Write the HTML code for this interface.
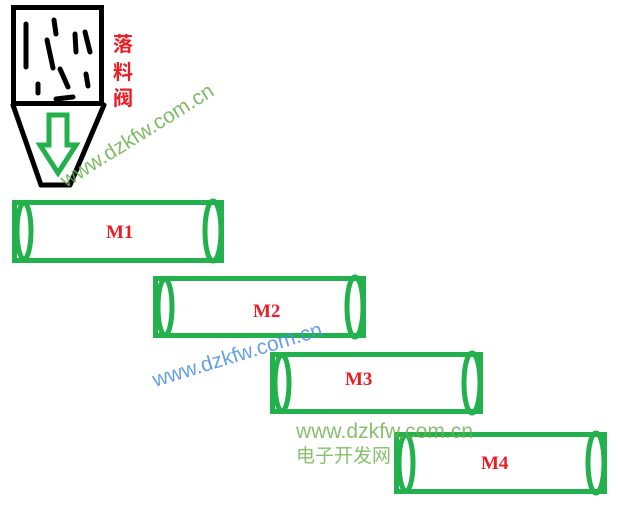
<!DOCTYPE html>
<html><head><meta charset="utf-8"><style>
html,body{margin:0;padding:0;background:#fff;width:619px;height:505px;overflow:hidden}
svg{display:block}
</style></head><body>
<svg width="619" height="505" viewBox="0 0 619 505" xmlns="http://www.w3.org/2000/svg">
<g stroke="#000" stroke-width="5" fill="none" stroke-linecap="round">
<rect x="13.5" y="7.5" width="88" height="96"/>
<line x1="13" y1="105" x2="41" y2="185"/>
<line x1="104" y1="105" x2="70" y2="185"/>
<line x1="41" y1="185" x2="70" y2="185"/>
<line x1="26" y1="24" x2="26" y2="67"/>
<line x1="54" y1="20" x2="56" y2="34"/>
<line x1="47" y1="40" x2="53" y2="68"/>
<line x1="75" y1="34" x2="76" y2="52"/>
<line x1="85" y1="32" x2="90" y2="52"/>
<line x1="60" y1="69" x2="68" y2="87"/>
<line x1="86" y1="74" x2="88" y2="86"/>
<line x1="38" y1="84" x2="38" y2="93"/>
<line x1="56" y1="99" x2="73" y2="97"/>
</g>
<polygon points="49,115 67,115 67,145 76,145 58,173 40,145 49,145" fill="none" stroke="#22b14c" stroke-width="5"/>
<g fill="#ed1c24" font-family="'Liberation Sans','Noto Sans CJK SC',sans-serif" font-size="20" font-weight="bold">
<text x="113" y="51">落</text>
<text x="113" y="79">料</text>
<text x="113" y="105">阀</text>
</g>
<g stroke="#22b14c" stroke-width="5" fill="none">
<rect x="14.5" y="202.5" width="207" height="58"/>
<ellipse cx="24" cy="231" rx="7" ry="28"/>
<ellipse cx="213" cy="231" rx="8" ry="30"/>
<rect x="155.5" y="278.5" width="208" height="57"/>
<ellipse cx="165" cy="307" rx="7" ry="28"/>
<ellipse cx="355" cy="307" rx="8" ry="30"/>
<rect x="272.5" y="354.5" width="208" height="57"/>
<ellipse cx="282" cy="383" rx="7" ry="28"/>
<ellipse cx="472" cy="383" rx="8" ry="30"/>
<rect x="396.5" y="434.5" width="208" height="57"/>
<ellipse cx="406" cy="463" rx="7" ry="28"/>
<ellipse cx="596" cy="463" rx="8" ry="30"/>
</g>
<g fill="#ed1c24" font-family="'Liberation Serif',serif" font-weight="bold" font-size="19">
<text x="106" y="238">M1</text>
<text x="253" y="317">M2</text>
<text x="345" y="385">M3</text>
<text x="481" y="469">M4</text>
</g>
<g font-family="'Liberation Sans','Noto Sans CJK SC',sans-serif" font-size="21">
<text transform="translate(66,188) rotate(-32)" fill="#6ab04c" opacity="0.85">www.dzkfw.com.cn</text>
<text transform="translate(155,387) rotate(-17)" fill="#4a90e2" opacity="0.85">www.dzkfw.com.cn</text>
<text x="296" y="438" fill="#6ab04c" opacity="0.8" textLength="177">www.dzkfw.com.cn</text>
<text x="296" y="462" fill="#6ab04c" opacity="0.8" font-size="19">电子开发网</text>
</g>
</svg>
</body></html>
